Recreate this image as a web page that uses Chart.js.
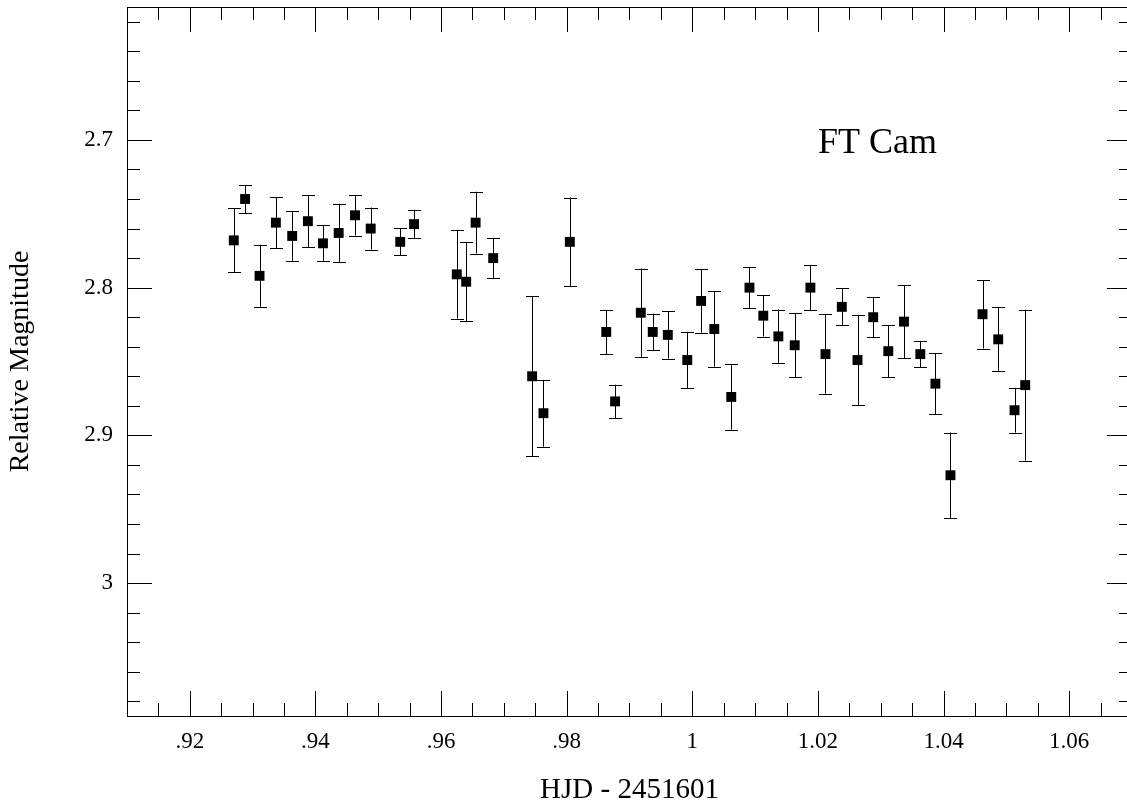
<!DOCTYPE html>
<html>
<head>
<meta charset="utf-8">
<script src="https://cdn.jsdelivr.net/npm/chart.js@4/dist/chart.umd.min.js"></script>
<style>
  html, body { margin: 0; padding: 0; background: #fff; overflow: hidden; }
  #wrap { width: 1140px; height: 805px; }
</style>
</head>
<body>
<div id="wrap"><canvas id="c" width="1140" height="805"></canvas></div>
<script>
// ---- data ----
const hjd = [0.9270, 0.9288, 0.9311, 0.9337, 0.9363, 0.9388, 0.9412, 0.9437, 0.9463, 0.9488,
             0.9535, 0.9557, 0.9625, 0.9640, 0.9655, 0.9683, 0.9745, 0.9763, 0.9805, 0.9863,
             0.9877, 0.9918, 0.9937, 0.9961, 0.9992, 1.0014, 1.0035, 1.0062, 1.0091, 1.0113,
             1.0137, 1.0163, 1.0188, 1.0212, 1.0238, 1.0263, 1.0288, 1.0312, 1.0337, 1.0363,
             1.0387, 1.0411, 1.0462, 1.0487, 1.0513, 1.0530];
const mag = [2.768, 2.740, 2.792, 2.756, 2.765, 2.755, 2.770, 2.763, 2.751, 2.760,
             2.769, 2.757, 2.791, 2.796, 2.756, 2.780, 2.860, 2.885, 2.769, 2.830,
             2.877, 2.817, 2.830, 2.832, 2.849, 2.809, 2.828, 2.874, 2.800, 2.819,
             2.833, 2.839, 2.800, 2.845, 2.813, 2.849, 2.820, 2.843, 2.823, 2.845,
             2.865, 2.927, 2.818, 2.835, 2.883, 2.866];
const magErr = [0.0217, 0.0096, 0.0210, 0.0171, 0.0169, 0.0177, 0.0121, 0.0198, 0.0137, 0.0142,
                0.0091, 0.0097, 0.0299, 0.0268, 0.0209, 0.0136, 0.0542, 0.0226, 0.0300, 0.0150,
                0.0113, 0.0299, 0.0124, 0.0160, 0.0190, 0.0215, 0.0255, 0.0222, 0.0139, 0.0141,
                0.0182, 0.0218, 0.0152, 0.0269, 0.0126, 0.0307, 0.0136, 0.0175, 0.0247, 0.0089,
                0.0208, 0.0289, 0.0232, 0.0217, 0.0151, 0.0511];

const xMajorTicks = [0.92, 0.94, 0.96, 0.98, 1.00, 1.02, 1.04, 1.06];
const xTickLabels = ['.92', '.94', '.96', '.98', '1', '1.02', '1.04', '1.06'];
const xMinorTicks = [0.915, 0.925, 0.93, 0.935, 0.945, 0.95, 0.955, 0.965, 0.97, 0.975,
                     0.985, 0.99, 0.995, 1.005, 1.01, 1.015, 1.025, 1.03, 1.035,
                     1.045, 1.05, 1.055, 1.065];
const yMajorTicks = [2.7, 2.8, 2.9, 3.0];
const yTickLabels = ['2.7', '2.8', '2.9', '3'];
const yMinorTicks = [2.62, 2.64, 2.66, 2.68, 2.72, 2.74, 2.76, 2.78, 2.82, 2.84, 2.86, 2.88,
                     2.92, 2.94, 2.96, 2.98, 3.02, 3.04, 3.06, 3.08];

const xTitle = 'HJD - 2451601';
const yTitle = 'Relative Magnitude';
const starName = 'FT Cam';

const SERIF = "'Liberation Serif', 'DejaVu Serif', serif";

const points = hjd.map((x, i) => ({ x: x, y: mag[i] }));

// error bars, drawn through the chart scales
const errorBars = {
  id: 'errorBars',
  beforeDatasetsDraw(chart) {
    const ctx = chart.ctx, xs = chart.scales.x, ys = chart.scales.y;
    ctx.save();
    ctx.strokeStyle = '#000';
    ctx.lineWidth = 1;
    const cap = 6.5;
    for (let i = 0; i < hjd.length; i++) {
      const px = Math.round(xs.getPixelForValue(hjd[i])) + 0.5;
      const y1 = ys.getPixelForValue(mag[i] - magErr[i]);
      const y2 = ys.getPixelForValue(mag[i] + magErr[i]);
      ctx.beginPath();
      ctx.moveTo(px, y1); ctx.lineTo(px, y2);
      ctx.moveTo(px - cap, Math.round(y1) + 0.5); ctx.lineTo(px + cap, Math.round(y1) + 0.5);
      ctx.moveTo(px - cap, Math.round(y2) + 0.5); ctx.lineTo(px + cap, Math.round(y2) + 0.5);
      ctx.stroke();
    }
    ctx.restore();
  }
};

// frame with inward major/minor ticks on all four sides, plus star label
const frame = {
  id: 'frame',
  afterDraw(chart) {
    const ctx = chart.ctx, xs = chart.scales.x, ys = chart.scales.y;
    const { left, right, top, bottom } = chart.chartArea;
    ctx.save();
    ctx.strokeStyle = '#000';
    ctx.lineWidth = 1;
    ctx.strokeRect(Math.round(left) + 0.5, Math.round(top) + 0.5,
                   Math.round(right - left), Math.round(bottom - top));
    const majorLen = 25, minorLen = 13;
    ctx.beginPath();
    const vt = (v, len) => {
      const px = Math.round(xs.getPixelForValue(v)) + 0.5;
      ctx.moveTo(px, bottom); ctx.lineTo(px, bottom - len);
      ctx.moveTo(px, top); ctx.lineTo(px, top + len);
    };
    const ht = (v, len) => {
      const py = Math.round(ys.getPixelForValue(v)) + 0.5;
      ctx.moveTo(left, py); ctx.lineTo(left + len, py);
      ctx.moveTo(right, py); ctx.lineTo(right - len, py);
    };
    xMajorTicks.forEach(v => vt(v, majorLen));
    xMinorTicks.forEach(v => vt(v, minorLen));
    yMajorTicks.forEach(v => ht(v, majorLen));
    yMinorTicks.forEach(v => ht(v, minorLen));
    ctx.stroke();

    ctx.fillStyle = '#000';
    ctx.font = '36px ' + SERIF;
    ctx.textAlign = 'left';
    ctx.textBaseline = 'alphabetic';
    ctx.fillText(starName, xs.getPixelForValue(1.02), ys.getPixelForValue(2.7) + 13);
    ctx.restore();
  }
};

function noPad(s) { s.paddingTop = 0; s.paddingBottom = 0; s.paddingLeft = 0; s.paddingRight = 0; }

new Chart(document.getElementById('c'), {
  type: 'scatter',
  data: {
    datasets: [{
      data: points,
      pointStyle: 'rect',
      pointRadius: 7,
      pointHoverRadius: 7,
      backgroundColor: '#000',
      borderColor: '#000',
      borderWidth: 0,
      showLine: false
    }]
  },
  options: {
    responsive: false,
    animation: false,
    devicePixelRatio: 1,
    layout: { padding: { top: 7, right: 8, left: 0, bottom: 0 } },
    plugins: { legend: { display: false }, tooltip: { enabled: false } },
    scales: {
      x: {
        type: 'linear',
        min: 0.91, max: 1.07,
        afterFit(s) { s.height = 89; noPad(s); },
        afterBuildTicks(s) { s.ticks = xMajorTicks.map(v => ({ value: v })); },
        grid: { display: false, drawTicks: false },
        border: { display: false },
        ticks: {
          padding: 12,
          color: '#000',
          font: { family: SERIF, size: 23 },
          maxRotation: 0,
          autoSkip: false,
          callback: (v) => { const i = xMajorTicks.findIndex(t => Math.abs(t - v) < 1e-9); return i >= 0 ? xTickLabels[i] : ''; }
        },
        title: {
          display: true, text: xTitle, color: '#000',
          font: { family: SERIF, size: 29 },
          padding: { top: 0, bottom: -3 }
        }
      },
      y: {
        type: 'linear',
        reverse: true,
        min: 2.61, max: 3.09,
        afterFit(s) { s.width = 127; noPad(s); },
        afterBuildTicks(s) { s.ticks = yMajorTicks.map(v => ({ value: v })); },
        grid: { display: false, drawTicks: false },
        border: { display: false },
        ticks: {
          padding: 14,
          color: '#000',
          font: { family: SERIF, size: 23 },
          autoSkip: false,
          callback: (v) => { const i = yMajorTicks.findIndex(t => Math.abs(t - v) < 1e-9); return i >= 0 ? yTickLabels[i] : ''; }
        },
        title: {
          display: true, text: yTitle, color: '#000',
          font: { family: SERIF, size: 28 },
          padding: { top: 4, bottom: 0 }
        }
      }
    }
  },
  plugins: [errorBars, frame]
});
</script>
</body>
</html>
